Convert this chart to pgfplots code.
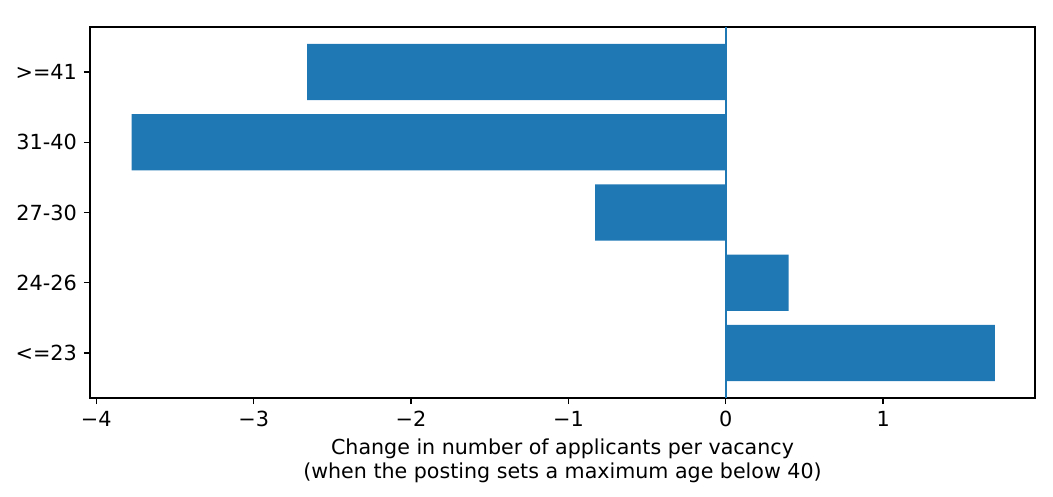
\documentclass[border=0pt]{standalone}
\usepackage{fontspec}
\setmainfont{DejaVu Sans}
\usepackage{pgfplots}
\pgfplotsset{compat=1.18}
\definecolor{tabblue}{HTML}{1F77B4}
\begin{document}
\begin{tikzpicture}
\begin{axis}[
  scale only axis,
  width=472.5pt, height=185.5pt,
  xmin=-4.04, xmax=1.965,
  ymin=-0.64, ymax=4.64,
  xtick={-4,-3,-2,-1,0,1},
  xticklabels={−4,−3,−2,−1,0,1},
  ytick={0,1,2,3,4},
  yticklabels={<=23,24-26,27-30,31-40,>=41},
  tick align=outside,
  xtick pos=bottom, ytick pos=left,
  major tick length=3pt,
  tick style={black, line width=0.7pt},
  axis line style={line width=0.7pt},
  every tick label/.append style={font=\fontsize{10.4}{12.5}\selectfont},
  /pgf/number format/assume math mode=true,
  xlabel={Change in number of applicants per vacancy\\(when the posting sets a maximum age below 40)},
  xlabel style={align=center, font=\fontsize{10.3}{12.3}\selectfont, yshift=1pt},
  clip=false,
]
\addplot[xbar, bar width=0.8, bar shift=0pt, fill=tabblue, draw=none]
  coordinates {(1.71,0) (0.40,1) (-0.83,2) (-3.775,3) (-2.66,4)};
\addplot[tabblue, line width=0.8pt] coordinates {(0,-0.64) (0,4.64)};
\coordinate (ll) at (rel axis cs:0,0);
\coordinate (ur) at (rel axis cs:1,1);
\end{axis}
\pgfresetboundingbox
\path ([shift={(-45pt,-49pt)}]ll) rectangle ([shift={(9pt,13.5pt)}]ur);
\end{tikzpicture}
\end{document}
